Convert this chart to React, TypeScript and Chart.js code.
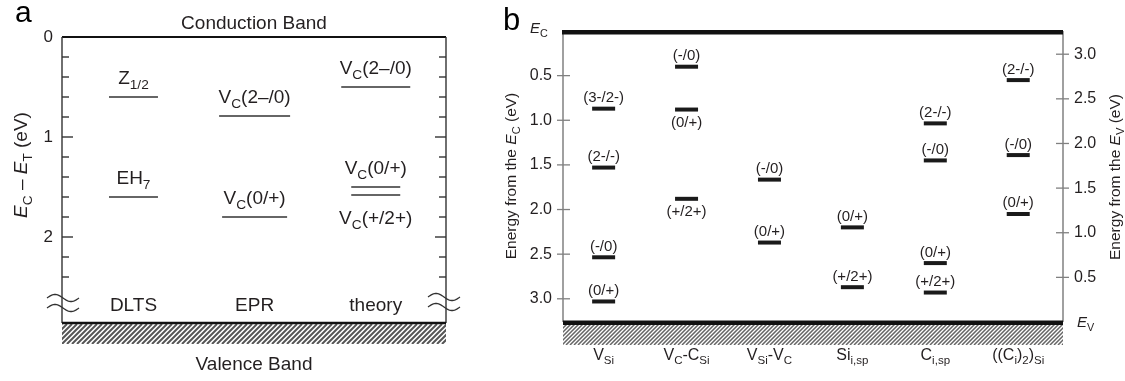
import React, { useEffect, useRef } from "react";
import { Chart, registerables } from "chart.js";

Chart.register(...registerables);

// ---------------- Panel a data ----------------
const aColumns = ["DLTS", "EPR", "theory"];
const aLevelColumn = [0, 0, 1, 1, 2, 2, 2];
const aLevelEnergy = [0.6, 1.6, 0.79, 1.8, 0.5, 1.5, 1.58];
const aLevelLabels = ["Z_{1/2}", "EH_{7}", "V_{C}(2–/0)", "V_{C}(0/+)", "V_{C}(2–/0)", "V_{C}(0/+)", "V_{C}(+/2+)"];
const aLabelSide = ["above", "above", "above", "above", "above", "above", "below"];
const aAxisMax = 2.86;
const aTopText = "Conduction Band";
const aBottomText = "Valence Band";
const aYTitle = "*E*_{C} – *E*_{T} (eV)";

// ---------------- Panel b data ----------------
const bCategories = ["V_{Si}", "V_{C}-C_{Si}", "V_{Si}-V_{C}", "Si_{i,sp}", "C_{i,sp}", "((C_{i})_{2})_{Si}"];
const bLevelCategory = [0, 0, 0, 0, 1, 1, 1, 2, 2, 3, 3, 4, 4, 4, 4, 5, 5, 5];
const bLevelEnergyFromEc = [0.87, 1.53, 2.535, 3.03, 0.4, 0.88, 1.88, 1.665, 2.37, 2.2, 2.87, 1.035, 1.45, 2.6, 2.93, 0.55, 1.39, 2.05];
const bLevelLabels = [
  "(3-/2-)", "(2-/-)", "(-/0)", "(0/+)",
  "(-/0)", "(0/+)", "(+/2+)",
  "(-/0)", "(0/+)",
  "(0/+)", "(+/2+)",
  "(2-/-)", "(-/0)", "(0/+)", "(+/2+)",
  "(2-/-)", "(-/0)", "(0/+)",
];
const bLabelSide = [
  "above", "above", "above", "above",
  "above", "below", "below",
  "above", "above",
  "above", "above",
  "above", "above", "above", "above",
  "above", "above", "above",
];
const bGap = 3.26;
const bLeftTitle = "Energy from the *E*_{C} (eV)";
const bRightTitle = "Energy from the *E*_{V} (eV)";
const bTopText = "*E*_{C}";
const bBottomText = "*E*_{V}";

// ---------------- drawing helpers ----------------
const FAMILY = '"Liberation Sans", Arial, Helvetica, sans-serif';
const TEXT = "#231f20";
const SUB = 0.72;
const DROP = 0.26;

type Seg = { t: string; sub: boolean; it: boolean };

function parseRich(s: string): Seg[] {
  const out: Seg[] = [];
  let it = false;
  let buf = "";
  const flush = () => {
    if (buf) out.push({ t: buf, sub: false, it });
    buf = "";
  };
  for (let i = 0; i < s.length; i++) {
    const c = s[i];
    if (c === "*") {
      flush();
      it = !it;
      continue;
    }
    if (c === "_" && s[i + 1] === "{") {
      flush();
      const j = s.indexOf("}", i);
      out.push({ t: s.slice(i + 2, j), sub: true, it: false });
      i = j;
      continue;
    }
    buf += c;
  }
  flush();
  return out;
}

function fontOf(size: number, it: boolean) {
  return `${it ? "italic " : ""}${size}px ${FAMILY}`;
}

function drawRich(ctx: CanvasRenderingContext2D, str: string, x: number, y: number, size: number, align: string, color: string) {
  const segs = parseRich(str);
  let w = 0;
  for (const s of segs) {
    ctx.font = fontOf(s.sub ? size * SUB : size, s.it);
    w += ctx.measureText(s.t).width;
  }
  let cx = align === "center" ? x - w / 2 : align === "right" ? x - w : x;
  ctx.fillStyle = color;
  ctx.textAlign = "left";
  ctx.textBaseline = "alphabetic";
  for (const s of segs) {
    ctx.font = fontOf(s.sub ? size * SUB : size, s.it);
    ctx.fillText(s.t, cx, s.sub ? y + size * DROP : y);
    cx += ctx.measureText(s.t).width;
  }
}

function drawRotated(ctx: CanvasRenderingContext2D, str: string, cx: number, cy: number, size: number, color: string) {
  ctx.save();
  ctx.translate(cx, cy);
  ctx.rotate(-Math.PI / 2);
  drawRich(ctx, str, 0, size * 0.35, size, "center", color);
  ctx.restore();
}

function line(ctx: CanvasRenderingContext2D, x0: number, y0: number, x1: number, y1: number, color: string, lw: number) {
  ctx.beginPath();
  ctx.moveTo(x0, y0);
  ctx.lineTo(x1, y1);
  ctx.strokeStyle = color;
  ctx.lineWidth = lw;
  ctx.lineCap = "butt";
  ctx.stroke();
}

function hatch(ctx: CanvasRenderingContext2D, x0: number, x1: number, y0: number, h: number, step: number, color: string, lw: number) {
  ctx.save();
  ctx.beginPath();
  ctx.rect(x0, y0, x1 - x0, h);
  ctx.clip();
  ctx.beginPath();
  for (let x = x0 - h; x < x1 + h; x += step) {
    ctx.moveTo(x, y0 + h);
    ctx.lineTo(x + h, y0);
  }
  ctx.strokeStyle = color;
  ctx.lineWidth = lw;
  ctx.stroke();
  ctx.restore();
}

function wave(ctx: CanvasRenderingContext2D, cx: number, cy: number, w: number, amp: number, color: string, lw: number) {
  ctx.beginPath();
  for (let i = 0; i <= 30; i++) {
    const t = i / 30;
    const x = cx - w / 2 + w * t;
    const y = cy - amp * Math.sin(2 * Math.PI * t);
    if (i === 0) ctx.moveTo(x, y);
    else ctx.lineTo(x, y);
  }
  ctx.strokeStyle = color;
  ctx.lineWidth = lw;
  ctx.stroke();
}

const isInt = (v: number) => Math.abs(v - Math.round(v)) < 1e-6;
const isHalf = (v: number) => Math.abs(v * 2 - Math.round(v * 2)) < 1e-6;

// ---------------- Panel a chart ----------------
function buildA() {
  const halfWidths = [24.5, 24.5, 35.5, 32.5, 34.5, 24.5, 24.5];
  const plugin = {
    id: "panelA",
    afterDraw(chart: any) {
      const ctx: CanvasRenderingContext2D = chart.ctx;
      const { left: L, right: R, top: T, bottom: B } = chart.chartArea;
      const ys = chart.scales.y;
      const xs = chart.scales.x;
      ctx.save();
      line(ctx, L, T, R, T, "#111", 2);
      line(ctx, L, T, L, B, "#333", 1.4);
      line(ctx, R, T, R, B, "#333", 1.4);
      for (const t of ys.ticks) {
        const v = t.value;
        if (v <= 0.01 || v > aAxisMax - 0.05 || (v > 2.5 && v < 2.7)) continue;
        const p = ys.getPixelForValue(v);
        const len = isInt(v) ? 11 : 7;
        line(ctx, L, p, L + len, p, "#333", 1.4);
        line(ctx, R - len, p, R, p, "#333", 1.4);
      }
      hatch(ctx, L, R, B + 1, 20, 5, "#555", 2);
      line(ctx, L, B, R, B, "#111", 2.5);
      for (const dy of [-25, -15]) {
        wave(ctx, L + 1, B + dy, 32, 3.5, "#333", 1.3);
        wave(ctx, R - 2, B + dy - 1, 32, 3.5, "#333", 1.3);
      }
      aColumns.forEach((c, i) => drawRich(ctx, c, xs.getPixelForValue(i), B - 12, 19, "center", TEXT));
      drawRich(ctx, aTopText, (L + R) / 2, T - 8, 19, "center", TEXT);
      drawRich(ctx, aBottomText, (L + R) / 2, B + 47, 19, "center", TEXT);
      aLevelLabels.forEach((lab, i) => {
        const x = xs.getPixelForValue(aLevelColumn[i]);
        const y = ys.getPixelForValue(aLevelEnergy[i]);
        drawRich(ctx, lab, x, aLabelSide[i] === "above" ? y - 13 : y + 29, 19, "center", TEXT);
      });
      drawRotated(ctx, aYTitle, 20, 165, 19, TEXT);
      drawRich(ctx, "a", 15, 22, 30, "left", "#000");
      ctx.restore();
    },
  };
  return {
    type: "scatter",
    data: {
      datasets: [
        {
          data: aLevelEnergy.map((e, i) => ({ x: aLevelColumn[i], y: e })),
          pointStyle: "line",
          pointRadius: halfWidths,
          pointHoverRadius: halfWidths,
          borderColor: "#333",
          backgroundColor: "#333",
          borderWidth: 1.5,
          pointBorderWidth: 1.5,
        },
      ],
    },
    options: {
      responsive: false,
      animation: false,
      devicePixelRatio: 1,
      layout: { padding: { left: 0, right: 44, top: 34, bottom: 58 } },
      plugins: { legend: { display: false }, tooltip: { enabled: false } },
      scales: {
        x: { type: "linear", min: -0.59, max: 2.58, display: false },
        y: {
          type: "linear",
          reverse: true,
          min: 0,
          max: aAxisMax,
          grid: { display: false, drawTicks: false, tickLength: 0 },
          border: { display: false },
          ticks: {
            stepSize: 0.2,
            autoSkip: false,
            padding: 9,
            color: TEXT,
            font: { size: 17, family: FAMILY },
            callback: (v: number) => (isInt(v) ? String(Math.round(v)) : ""),
          },
          afterFit: (s: any) => {
            s.width = 62;
          },
        },
      },
    },
    plugins: [plugin],
  };
}

// ---------------- Panel b chart ----------------
function buildB() {
  const plugin = {
    id: "panelB",
    afterDraw(chart: any) {
      const ctx: CanvasRenderingContext2D = chart.ctx;
      const { left: L, right: R, top: T, bottom: B } = chart.chartArea;
      const ys = chart.scales.y;
      const y2 = chart.scales.y2;
      const xs = chart.scales.x;
      ctx.save();
      line(ctx, L, T, L, B, "#808080", 1.5);
      line(ctx, R, T, R, B, "#808080", 1.5);
      for (const t of ys.ticks) {
        const v = t.value;
        if (v < 0.1 || v > bGap - 0.1 || !isHalf(v)) continue;
        const p = ys.getPixelForValue(v);
        line(ctx, L - 6, p, L + 7, p, "#808080", 1.3);
      }
      for (const t of y2.ticks) {
        const v = t.value;
        if (v < 0.1 || v > bGap - 0.1 || !isHalf(v)) continue;
        const p = y2.getPixelForValue(v);
        line(ctx, R - 7, p, R + 6, p, "#808080", 1.3);
      }
      hatch(ctx, L, R, B + 2, 21, 4, "#666", 1.5);
      line(ctx, L - 1, T + 1.2, R, T + 1.2, "#111", 4.5);
      line(ctx, L, B + 0.8, R, B + 0.8, "#111", 4.5);
      drawRich(ctx, bTopText, 40, T + 2, 15, "left", TEXT);
      drawRich(ctx, bBottomText, 587, B + 5, 15, "left", TEXT);
      bCategories.forEach((c, i) => drawRich(ctx, c, xs.getPixelForValue(i), B + 38, 16, "center", TEXT));
      bLevelLabels.forEach((lab, i) => {
        const x = xs.getPixelForValue(bLevelCategory[i]);
        const y = ys.getPixelForValue(bLevelEnergyFromEc[i]);
        drawRich(ctx, lab, x, bLabelSide[i] === "above" ? y - 6.5 : y + 17, 15, "center", TEXT);
      });
      drawRotated(ctx, bLeftTitle, 21, 176, 15.5, TEXT);
      drawRotated(ctx, bRightTitle, 625, 177, 15.5, TEXT);
      drawRich(ctx, "b", 13, 30, 31, "left", "#000");
      ctx.restore();
    },
  };
  const tickCb = (v: number) => (v > 0.1 && v < bGap - 0.1 && isHalf(v) ? v.toFixed(1) : "");
  return {
    type: "scatter",
    data: {
      datasets: [
        {
          data: bLevelEnergyFromEc.map((e, i) => ({ x: bLevelCategory[i], y: e })),
          pointStyle: "line",
          pointRadius: 11.5,
          pointHoverRadius: 11.5,
          borderColor: "#1a1a1a",
          backgroundColor: "#1a1a1a",
          borderWidth: 4,
          pointBorderWidth: 4,
        },
      ],
    },
    options: {
      responsive: false,
      animation: false,
      devicePixelRatio: 1,
      layout: { padding: { left: 0, right: 0, top: 31, bottom: 59 } },
      plugins: { legend: { display: false }, tooltip: { enabled: false } },
      scales: {
        x: { type: "linear", min: -0.49, max: 5.54, display: false },
        y: {
          type: "linear",
          position: "left",
          reverse: true,
          min: 0,
          max: bGap,
          grid: { display: false, drawTicks: false, tickLength: 0 },
          border: { display: false },
          ticks: { stepSize: 0.5, autoSkip: false, padding: 11, color: TEXT, font: { size: 16, family: FAMILY }, callback: tickCb },
          afterFit: (s: any) => {
            s.width = 73;
          },
        },
        y2: {
          type: "linear",
          position: "right",
          min: 0,
          max: bGap,
          grid: { display: false, drawTicks: false, tickLength: 0 },
          border: { display: false },
          ticks: { stepSize: 0.5, autoSkip: false, padding: 11, color: TEXT, font: { size: 16, family: FAMILY }, callback: tickCb },
          afterFit: (s: any) => {
            s.width = 62;
          },
        },
      },
    },
    plugins: [plugin],
  };
}

export default function App() {
  const refA = useRef<HTMLCanvasElement>(null);
  const refB = useRef<HTMLCanvasElement>(null);
  useEffect(() => {
    const a = new Chart(refA.current as HTMLCanvasElement, buildA() as any);
    const b = new Chart(refB.current as HTMLCanvasElement, buildB() as any);
    return () => {
      a.destroy();
      b.destroy();
    };
  }, []);
  return (
    <div style={{ position: "absolute", left: 0, top: 0, width: 1125, height: 381, background: "#fff" }}>
      <canvas ref={refA} width={490} height={381} style={{ position: "absolute", left: 0, top: 0, width: 490, height: 381 }} />
      <canvas ref={refB} width={635} height={381} style={{ position: "absolute", left: 490, top: 0, width: 635, height: 381 }} />
    </div>
  );
}
